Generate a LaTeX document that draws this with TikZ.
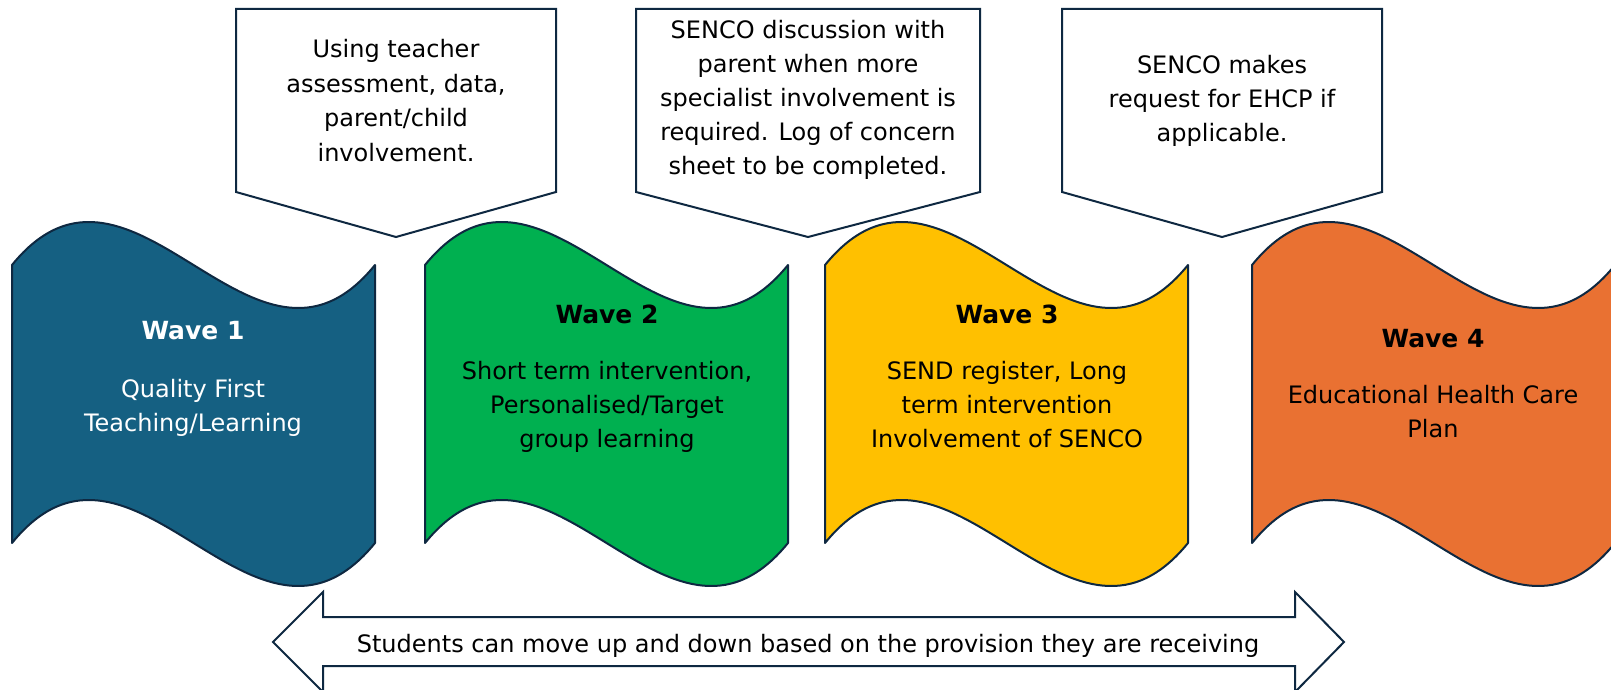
\documentclass[tikz,border=0pt]{standalone}
\usepackage{fontspec}
\setmainfont{DejaVu Sans}
\definecolor{edge}{HTML}{0E2841}
\definecolor{wblue}{HTML}{156082}
\definecolor{wgreen}{HTML}{00B050}
\definecolor{wgold}{HTML}{FFC000}
\definecolor{worange}{HTML}{E97132}
\newcommand{\wavefill}[2]{%
  \begin{scope}[shift={(#1,0)}]
    \path[waveshape,fill=#2] (0,265) .. controls (121,116) and (242,414) .. (363,265)
      -- (363,543) .. controls (242,692) and (121,394) .. (0,543) -- cycle;
  \end{scope}}
\begin{document}
\begin{tikzpicture}[x=1pt,y=-1pt,
  waveshape/.style={draw=edge,line width=2pt,line join=round},
  callout/.style={draw=edge,fill=white,line width=2pt,line join=miter},
  txt/.style={anchor=base,inner sep=0pt,font=\fontsize{24}{34}\selectfont},
  ttl/.style={anchor=base,inner sep=0pt,font=\fontsize{25}{34}\selectfont\bfseries}]
\useasboundingbox[fill=white] (0,0) rectangle (1611,690);

% callouts
\path[callout] (236,9) -- (556,9) -- (556,192) -- (396,237) -- (236,192) -- cycle;
\path[callout] (636,9) -- (980,9) -- (980,192) -- (808,237) -- (636,192) -- cycle;
\path[callout] (1062,9) -- (1382,9) -- (1382,192) -- (1222,237) -- (1062,192) -- cycle;

\node[txt] (c1a) at (396,58) {Using teacher};
\node[txt] (c1b) at (396,93) {assessment, data,};
\node[txt] (c1c) at (396,127) {parent/child};
\node[txt] (c1d) at (396,161) {involvement.};

\node[txt] (c2a) at (808,39) {SENCO discussion with};
\node[txt] (c2b) at (808,73) {parent when more};
\node[txt] (c2c) at (808,107) {specialist involvement is};
\node[txt] (c2d) at (808,141) {required. Log of concern};
\node[txt] (c2e) at (808,175) {sheet to be completed.};

\node[txt] (c3a) at (1222,74) {SENCO makes};
\node[txt] (c3b) at (1222,108) {request for EHCP if};
\node[txt] (c3c) at (1222,142) {applicable.};

% waves
\wavefill{12}{wblue}
\wavefill{425}{wgreen}
\wavefill{825}{wgold}
\wavefill{1252}{worange}

\node[ttl,text=white] (w1t) at (193,339) {Wave 1};
\node[txt,text=white] (w1a) at (193,397) {Quality First};
\node[txt,text=white] (w1b) at (193,431) {Teaching/Learning};

\node[ttl] (w2t) at (607,323) {Wave 2};
\node[txt] (w2a) at (607,379) {Short term intervention,};
\node[txt] (w2b) at (607,413) {Personalised/Target};
\node[txt] (w2c) at (607,447) {group learning};

\node[ttl] (w3t) at (1007,323) {Wave 3};
\node[txt] (w3a) at (1007,379) {SEND register, Long};
\node[txt] (w3b) at (1007,413) {term intervention};
\node[txt] (w3c) at (1007,447) {Involvement of SENCO};

\node[ttl] (w4t) at (1433,347) {Wave 4};
\node[txt] (w4a) at (1433,403) {Educational Health Care};
\node[txt] (w4b) at (1433,437) {Plan};

% double arrow
\path[callout] (273,642) -- (323,592) -- (323,617) -- (1295,617) -- (1295,592)
  -- (1344,642) -- (1295,692) -- (1295,666) -- (323,666) -- (323,692) -- cycle;
\node[txt] (arr) at (808,652) {Students can move up and down based on the provision they are receiving};
\end{tikzpicture}
\end{document}
